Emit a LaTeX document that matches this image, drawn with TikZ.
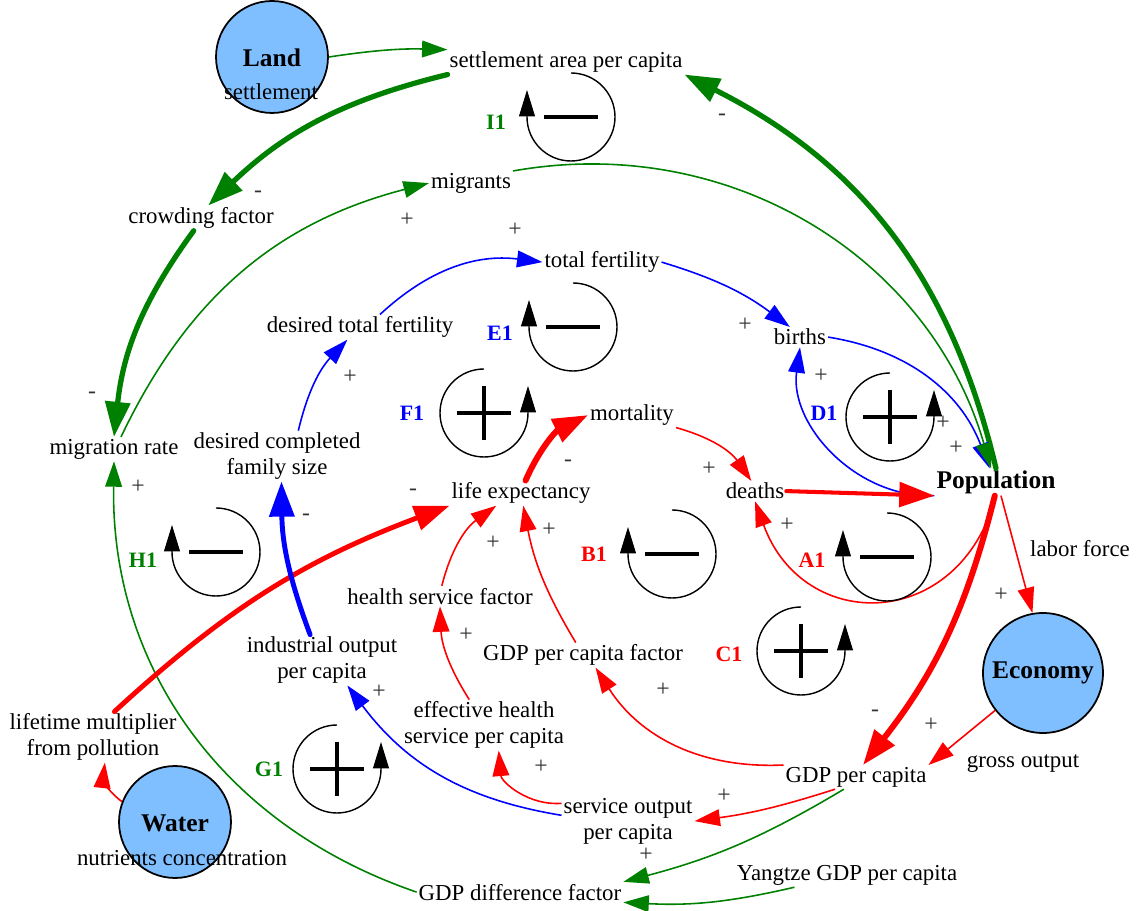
\documentclass[tikz,border=0pt]{standalone}
\usepackage{fontspec}
\setmainfont{Liberation Serif}
\usetikzlibrary{arrows.meta}
\definecolor{green}{HTML}{008000}
\definecolor{blue}{HTML}{0000FF}
\definecolor{red}{HTML}{FF0000}
\definecolor{sector}{HTML}{80BFFF}
\definecolor{muted}{HTML}{333333}
\tikzset{
  var/.style={inner sep=1pt,yshift=-1.2pt,align=center,font=\fontsize{13}{14.7}\selectfont},
  hub/.style={circle,draw=black,line width=1pt,fill=sector,inner sep=0pt},
  hubname/.style={inner sep=1pt,font=\bfseries\fontsize{14.5}{16}\selectfont},
  pol/.style={inner sep=0pt,text=muted,font=\fontsize{13.5}{13.5}\selectfont},
  looptag/.style={inner sep=0pt,font=\bfseries\fontsize{12.5}{13}\selectfont},
  link/.style={line width=0.9pt,-{Triangle[length=14.5pt,width=9.5pt]}},
  heavy/.style={line width=3pt,line cap=round,-{Triangle[length=20pt,width=14pt]}},
  loopline/.style={line width=0.8pt,-{Triangle[length=15pt,width=9pt]}},
  loopsign/.style={line width=2.2pt},
}

\begin{document}
\begin{tikzpicture}[x=0.02cm,y=0.02cm]
  \useasboundingbox (0,0) rectangle (1137,-911);
  \node[hub,minimum size=2.24cm] (land) at (272,-57) {};
  \node[hub,minimum size=2.4cm] (econ) at (1043,-673) {};
  \node[hub,minimum size=2.24cm] (water) at (175,-822) {};
  \node[hubname] (landname) at (272,-58) {Land};
  \node[var] (landsub) at (271,-90) {settlement};
  \node[hubname] (econname) at (1043,-673) {Economy};
  \node[hubname] (watername) at (175,-823) {Water};
  \node[var] (watersub) at (182,-856) {nutrients concentration};

  \node[var] (settle) at (566,-60) {settlement area per capita};
  \node[var] (crowd) at (201,-216) {crowding factor};
  \node[var] (migrants) at (471,-181) {migrants};
  \node[var] (migr) at (114,-447) {migration rate};
  \node[var] (dtf) at (360,-325) {desired total fertility};
  \node[var] (tf) at (602,-260) {total fertility};
  \node[var] (births) at (800,-335) {births};
  \node[var] (dcfs) at (277,-454) {desired completed\\family size};
  \node[var] (mort) at (632,-413) {mortality};
  \node[var] (lifeexp) at (521,-491) {life expectancy};
  \node[var] (deaths) at (755,-489) {deaths};
  \node[hubname] (pop) at (996,-482) {Population};
  \node[var] (labor) at (1080,-546) {labor force};
  \node[var] (hsf) at (440,-594) {health service factor};
  \node[var] (ind) at (322,-658) {industrial output\\per capita};
  \node[var] (gdpf) at (583,-653) {GDP per capita factor};
  \node[var] (lifemult) at (93,-735) {lifetime multiplier\\from pollution};
  \node[var] (ehs) at (484,-723) {effective health\\service per capita};
  \node[var] (gdp) at (856,-775) {GDP per capita};
  \node[var] (gross) at (1023,-761) {gross output};
  \node[var] (sop) at (628,-819) {service output\\per capita};
  \node[var] (gdpdiff) at (520,-890) {GDP difference factor};
  \node[var] (yangtze) at (847,-873) {Yangtze GDP per capita};

  \draw[link,green] (land.east) to[bend left=5] (settle.north west);
  \draw[heavy,green] (settle.south west) to[bend right=15] (crowd.60);
  \draw[heavy,green] (pop.north) to[bend right=25] (settle.south east);
  \draw[heavy,green] (crowd.-120) to[bend right=15] (migr.north);
  \draw[link,green] (migr.60) to[bend left=25] (migrants.west);
  \draw[link,blue] (births.east) to[bend left=30] (pop.115);
  \draw[link,green] (migrants.north east) to[bend left=42] (pop.110);
  \draw[link,blue] ([xshift=0.4cm]dtf.north) to[bend left=25] (tf.west);
  \draw[link,blue] (tf.east) to[bend left=10] (births.135);
  \draw[link,blue] (pop.south west) to[bend left=50] (births.south);
  \draw[heavy,red,line width=3.4pt] (lifeexp.70) to[bend left=20] (mort.west);
  \draw[link,red] (mort.south east) to[bend left=20] (deaths.110);
  \draw[heavy,red,line width=2.3pt] (deaths.east) -- (pop.south west);
  \draw[link,red] (pop.south) to[out=-105,in=-70,looseness=1.5] (deaths.south);
  \draw[link,red] (pop.-70) -- (econ.100);
  \draw[heavy,red,line width=3.4pt] (pop.-95) to[bend left=12] (gdp.60);
  \draw[link,red] (econ.218) -- (gdp.north east);
  \draw[link,red] (gdp.north west) to[bend left=30] (gdpf.-45);
  \draw[link,red] (gdp.-150) to[bend left=5] (sop.east);
  \draw[link,green] (gdp.-135) to[bend left=8] (gdpdiff.north east);
  \draw[link,green] (yangtze.-167) to[bend left=8] (gdpdiff.south east);
  \draw[link,green] (gdpdiff.west) to[bend left=36] (migr.south);
  \draw[link,red] (sop.165) to[bend left=45] (ehs.-60);
  \draw[link,blue] (sop.175) to[bend left=22] (ind.-45);
  \draw[link,red] (ehs.120) to[bend left=15] (hsf.south);
  \draw[link,red] (hsf.80) to[bend left=20] (lifeexp.-153);
  \draw[link,red] (gdpf.120) to[bend left=10] (lifeexp.-80);
  \draw[heavy,red,line width=2.8pt] (lifemult.50) to[bend left=11] (lifeexp.south west);
  \draw[link,red] (water.159) to[bend left=30] (lifemult.-65);
  \draw[heavy,blue,line width=2.8pt] (ind.115) to[bend left=10] (dcfs.-80);
  \draw[link,blue] (dcfs.50) to[bend left=15] (dtf.-135);

  \foreach \x/\y in {571/117,573/327,216/552,672/554,887/557}{
    \draw[loopline] (\x,-\y) ++(0,44) arc[start angle=90,end angle=-180,radius=44] -- ++(0,27);
    \draw[loopsign] (\x-27,-\y) -- (\x+27,-\y);
  }
  \foreach \x/\y in {484/413,890/417,801/651,337/769}{
    \draw[loopline] (\x,-\y) ++(0,44) arc[start angle=90,end angle=360,radius=44] -- ++(0,27);
    \draw[loopsign] (\x-27,-\y) -- (\x+27,-\y) (\x,-\y+27) -- (\x,-\y-27);
  }
  \foreach \x/\y/\t/\c in {496/122/I1/green,500/333/E1/blue,412/413/F1/blue,824/413/D1/blue,
      143/560/H1/green,594/554/B1/red,812/560/A1/red,729/654/C1/red,269/769/G1/green}
    \node[looptag,text=\c] (tag\t) at (\x,-\y) {\t};
  \foreach \x/\y/\s [count=\i] in {258/194/-,722/117/-,92/395/-,407/220/+,515/230/+,745/325/+,
      821/376/+,943/423/+,956/448/+,138/487/+,306/517/-,350/377/+,413/492/-,568/463/-,
      709/469/+,493/543/+,549/530/+,787/525/+,466/635/+,379/692/+,541/767/+,663/690/+,
      724/796/+,646/855/+,875/713/-,931/725/+,1001/595/+}
    \node[pol] (sign\i) at (\x,-\y) {\s};
\end{tikzpicture}
\end{document}
